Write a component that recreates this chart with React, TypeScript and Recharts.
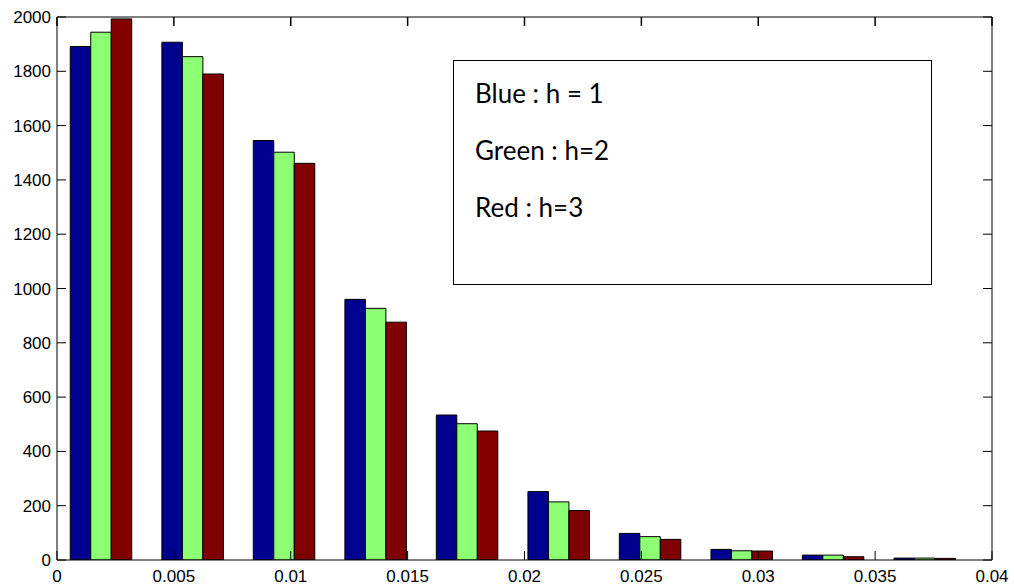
import { BarChart, Bar, XAxis, YAxis, ReferenceLine } from 'recharts';

// bin centres (x) and counts for the three cases
const binCenters = [0.00188, 0.0058, 0.00971, 0.01363, 0.01754, 0.02146, 0.02537, 0.02929, 0.0332, 0.03712];
const blueCounts = [1891, 1907, 1545, 960, 534, 252, 98, 39, 18, 7];
const greenCounts = [1944, 1854, 1502, 927, 502, 214, 86, 34, 18, 7];
const redCounts = [1993, 1790, 1461, 876, 475, 182, 76, 33, 12, 6];

const xTicks = [0, 0.005, 0.01, 0.015, 0.02, 0.025, 0.03, 0.035, 0.04];
const yTicks = [0, 200, 400, 600, 800, 1000, 1200, 1400, 1600, 1800, 2000];

const legendLines = ['Blue : h = 1', 'Green : h=2', 'Red : h=3'];

const data = binCenters.map((x, i) => ({
  x,
  h1: blueCounts[i],
  h2: greenCounts[i],
  h3: redCounts[i],
}));

const FONT = '"Liberation Sans", Arial, sans-serif';
const Y_MAX = 2000;
// inward tick length on the top edge, in y units (~9px)
const TOP_TICK = 33;

const noLabel = () => <g />;

export default function App() {
  return (
    <div style={{ position: 'absolute', left: 0, top: 0, width: 1014, height: 588, background: '#fff' }}>
      <BarChart
        width={1014}
        height={588}
        data={data}
        margin={{ top: 16, right: 21, left: 0, bottom: 0 }}
        barGap={0}
        barSize={20.5}
        style={{ fontFamily: FONT }}
      >
        <XAxis
          xAxisId="bottom"
          dataKey="x"
          type="number"
          domain={[0, 0.04]}
          ticks={xTicks}
          interval={0}
          allowDataOverflow
          height={28}
          tickSize={-9}
          tickMargin={19}
          tickFormatter={(v) => String(v)}
          tick={{ fill: '#000', fontSize: 17, fontFamily: FONT }}
          axisLine={{ stroke: '#000' }}
          tickLine={{ stroke: '#000' }}
        />
        <XAxis
          xAxisId="top"
          orientation="top"
          dataKey="x"
          type="number"
          domain={[0, 0.04]}
          ticks={xTicks}
          allowDataOverflow
          height={1}
          tick={noLabel}
          tickLine={false}
          axisLine={{ stroke: '#000' }}
        />
        <YAxis
          yAxisId="left"
          domain={[0, Y_MAX]}
          ticks={yTicks}
          interval={0}
          allowDataOverflow
          width={57}
          tickSize={-9}
          tickMargin={15}
          tick={{ fill: '#000', fontSize: 17, fontFamily: FONT }}
          axisLine={{ stroke: '#000' }}
          tickLine={{ stroke: '#000' }}
        />
        <YAxis
          yAxisId="right"
          orientation="right"
          domain={[0, Y_MAX]}
          ticks={yTicks}
          interval={0}
          allowDataOverflow
          width={1}
          tickSize={-9}
          tick={noLabel}
          axisLine={{ stroke: '#000' }}
          tickLine={{ stroke: '#000' }}
        />
        <Bar xAxisId="bottom" yAxisId="left" dataKey="h1" fill="#00008f" stroke="#000" strokeWidth={1} isAnimationActive={false} />
        <Bar xAxisId="bottom" yAxisId="left" dataKey="h2" fill="#8cff73" stroke="#000" strokeWidth={1} isAnimationActive={false} />
        <Bar xAxisId="bottom" yAxisId="left" dataKey="h3" fill="#800000" stroke="#000" strokeWidth={1} isAnimationActive={false} />
        {xTicks.map((t) => (
          <ReferenceLine
            key={t}
            xAxisId="bottom"
            yAxisId="left"
            segment={[
              { x: t, y: Y_MAX },
              { x: t, y: Y_MAX - TOP_TICK },
            ]}
            stroke="#000"
            strokeWidth={1.5}
            ifOverflow="extendDomain"
          />
        ))}
      </BarChart>
      <div
        style={{
          position: 'absolute',
          left: 453,
          top: 60,
          width: 479,
          height: 225,
          boxSizing: 'border-box',
          border: '1.5px solid #000',
          background: '#fff',
          fontFamily: 'Lato, "Open Sans", sans-serif',
          fontSize: 26,
          color: '#000',
        }}
      >
        {legendLines.map((t, i) => (
          <div
            key={t}
            style={{ position: 'absolute', left: 21, top: 32 + i * 57 - 16, lineHeight: '32px', whiteSpace: 'pre' }}
          >
            {t}
          </div>
        ))}
      </div>
    </div>
  );
}
